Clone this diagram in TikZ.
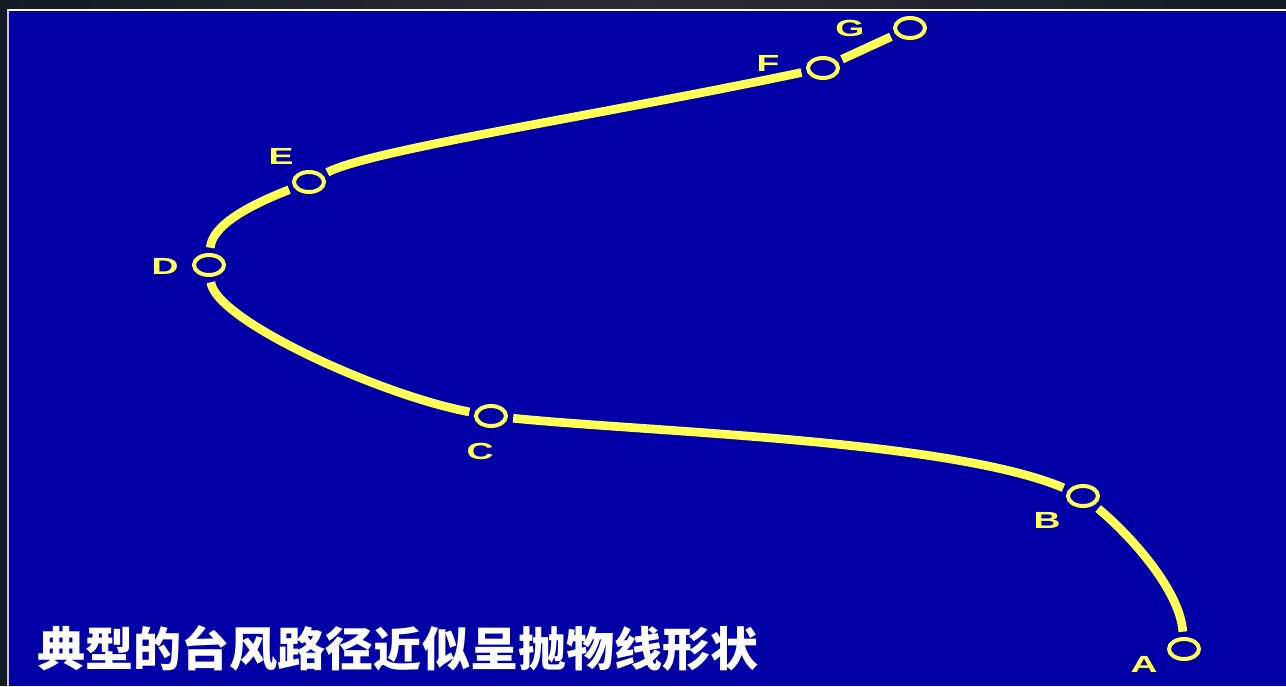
\documentclass[tikz,border=0pt]{standalone}
\usepackage{fontspec}
\setmainfont{Liberation Sans}
\newfontfamily\cjk{Noto Sans CJK SC}
\usetikzlibrary{shapes.geometric}
\definecolor{bgdark}{HTML}{141B26}
\definecolor{bgmid}{HTML}{2C2B38}
\definecolor{slide}{HTML}{0000A6}
\definecolor{track}{HTML}{FFFF55}
\begin{document}
\begin{tikzpicture}[x=0.75pt,y=-0.75pt,
  spot/.style={ellipse, draw=track, line width=3pt, minimum width=22.5pt, minimum height=15pt, inner sep=0pt},
  lab/.style={text=track, font=\bfseries\fontsize{17.5}{19}\selectfont, xscale=1.6, transform shape, inner sep=0pt},
  trackline/.style={draw=track, line width=6.5pt, shorten <=4pt, shorten >=4pt},
  titletext/.style={text=white, font=\cjk\bfseries\fontsize{35}{38}\selectfont, xscale=1.03, transform shape, inner sep=0pt}]
\useasboundingbox (0,0) rectangle (1286,686);
% frame
\shade[left color=bgdark, right color=bgdark, middle color=bgmid] (0,0) rectangle (1286,12);
\fill[bgdark] (0,0) rectangle (9,686);
\fill[white] (7,9) rectangle (1286,11);
\fill[black!20] (7,9) rectangle (9,686);
\fill[slide] (9,11) rectangle (1286,686);
% positions
\node[spot] (A) at (1184,649) {};
\node[spot] (B) at (1083,496) {};
\node[spot] (C) at (491,416) {};
\node[spot] (D) at (209,265) {};
\node[spot] (E) at (309,182) {};
\node[spot] (F) at (823,68) {};
\node[spot] (G) at (910,28) {};
% labels
\node[lab] (lA) at (1144,664) {A};
\node[lab] (lB) at (1047,520) {B};
\node[lab] (lC) at (480,451) {C};
\node[lab] (lD) at (165,266) {D};
\node[lab] (lE) at (281,156) {E};
\node[lab] (lF) at (768,63) {F};
\node[lab] (lG) at (850,28) {G};
% track
\draw[trackline] (A) .. controls (1180,590) and (1130,535) .. (B);
\draw[trackline] (B) .. controls (950,440) and (650,432) .. (C);
\draw[trackline] (C) .. controls (380,395) and (215,320) .. (D);
\draw[trackline] (D) .. controls (212,225) and (250,205) .. (E);
\draw[trackline] (E) .. controls (370,150) and (600,115) .. (F);
\draw[trackline] (F) -- (G);
% title
\node[titletext] (t) at (398,648) {典型的台风路径近似呈抛物线形状};
\end{tikzpicture}
\end{document}
